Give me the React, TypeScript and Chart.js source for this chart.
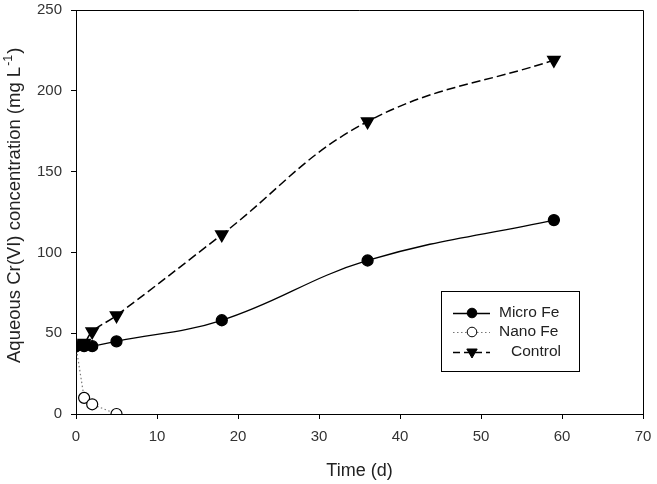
import React, { useEffect, useRef } from "react";
import { Chart, registerables } from "chart.js";

Chart.register(...registerables);

const seriesNames = ["Micro Fe", "Nano Fe", "Control"];
const microTime = [0, 1, 2, 5, 18, 36, 59];
const microValues = [42, 42, 42, 45, 58, 95, 120];
const nanoTime = [0, 1, 2, 5];
const nanoValues = [42, 10, 6, 0];
const controlTime = [0, 1, 2, 5, 18, 36, 59];
const controlValues = [42, 44, 51, 61, 111, 181, 219];
const xTicks = [0, 10, 20, 30, 40, 50, 60, 70];
const yTicks = [0, 50, 100, 150, 200, 250];
const xTitle = "Time (d)";
const yTitleMain = "Aqueous Cr(VI) concentration (mg L";
const yTitleSup = "-1";
const yTitleEnd = ")";

const FONT = "'Liberation Sans', Arial, sans-serif";

const toPoints = (xs: number[], ys: number[]) => xs.map((x, i) => ({ x, y: ys[i] }));

const framePlugin = {
  id: "frame",
  afterDraw(chart: any) {
    const { ctx, chartArea } = chart;
    ctx.save();
    ctx.strokeStyle = "#000";
    ctx.lineWidth = 1;
    ctx.beginPath();
    ctx.moveTo(chartArea.left, chartArea.top + 0.5);
    ctx.lineTo(chartArea.right + 0.5, chartArea.top + 0.5);
    ctx.lineTo(chartArea.right + 0.5, chartArea.bottom);
    ctx.stroke();
    ctx.restore();
  },
};

const yTitlePlugin = {
  id: "yTitle",
  afterDraw(chart: any) {
    const { ctx } = chart;
    ctx.save();
    ctx.translate(19.5, 363);
    ctx.rotate(-Math.PI / 2);
    ctx.fillStyle = "#222";
    ctx.textBaseline = "alphabetic";
    ctx.textAlign = "left";
    ctx.font = `18.5px ${FONT}`;
    ctx.fillText(yTitleMain, 0, 0);
    let x = ctx.measureText(yTitleMain).width + 1;
    ctx.font = `12.5px ${FONT}`;
    ctx.fillText(yTitleSup, x, -8);
    x += ctx.measureText(yTitleSup).width + 1;
    ctx.font = `18.5px ${FONT}`;
    ctx.fillText(yTitleEnd, x, 0);
    ctx.restore();
  },
};

const legendPlugin = {
  id: "boxLegend",
  afterDraw(chart: any) {
    const { ctx } = chart;
    const bx = 441.5, by = 291.5, bw = 138, bh = 80;
    ctx.save();
    ctx.fillStyle = "#fff";
    ctx.fillRect(bx, by, bw, bh);
    ctx.strokeStyle = "#000";
    ctx.lineWidth = 1;
    ctx.strokeRect(bx, by, bw, bh);
    const rows = [313, 332, 352];
    const textX = [499, 499, 511];
    chart.data.datasets.forEach((ds: any, i: number) => {
      const y = rows[i];
      ctx.save();
      ctx.strokeStyle = ds.borderColor;
      ctx.lineWidth = ds.borderWidth;
      ctx.setLineDash(i === 2 ? [7, 4] : ds.borderDash || []);
      ctx.beginPath();
      ctx.moveTo(453, y + 0.5);
      ctx.lineTo(490, y + 0.5);
      ctx.stroke();
      ctx.restore();
      const mx = 472;
      ctx.save();
      ctx.fillStyle = ds.pointBackgroundColor;
      ctx.strokeStyle = "#000";
      ctx.lineWidth = 1;
      ctx.beginPath();
      if (ds.pointStyle === "triangle") {
        const r = 6;
        ctx.moveTo(mx - r * 0.866, y - r * 0.5);
        ctx.lineTo(mx + r * 0.866, y - r * 0.5);
        ctx.lineTo(mx, y + r);
        ctx.closePath();
      } else {
        ctx.arc(mx, y, 4.8, 0, Math.PI * 2);
      }
      ctx.fill();
      ctx.stroke();
      ctx.restore();
      ctx.fillStyle = "#222";
      ctx.font = `15.5px ${FONT}`;
      ctx.textBaseline = "middle";
      ctx.fillText(ds.label, textX[i], y);
    });
    ctx.restore();
  },
};

export default function App() {
  const ref = useRef<HTMLCanvasElement>(null);
  useEffect(() => {
    if (!ref.current) return;
    const chart = new Chart(ref.current, {
      type: "line",
      data: {
        datasets: [
          {
            label: seriesNames[0],
            data: toPoints(microTime, microValues),
            borderColor: "#000",
            borderWidth: 1.3,
            pointStyle: "circle",
            pointRadius: 5.5,
            pointBackgroundColor: "#000",
            pointBorderColor: "#000",
            tension: 0.4,
          },
          {
            label: seriesNames[1],
            data: toPoints(nanoTime, nanoValues),
            borderColor: "#777",
            borderWidth: 1.2,
            borderDash: [1.5, 2.5],
            pointStyle: "circle",
            pointRadius: 5.5,
            pointBackgroundColor: "#fff",
            pointBorderColor: "#000",
            pointBorderWidth: 1.2,
            tension: 0,
          },
          {
            label: seriesNames[2],
            data: toPoints(controlTime, controlValues),
            borderColor: "#000",
            borderWidth: 1.5,
            borderDash: [9, 4],
            pointStyle: "triangle",
            pointRotation: 180,
            pointRadius: 7,
            pointBackgroundColor: "#000",
            pointBorderColor: "#000",
            tension: 0.4,
          },
        ] as any,
      },
      options: {
        animation: false,
        responsive: false,
        maintainAspectRatio: false,
        layout: { padding: { left: 0, top: 0, right: 0, bottom: 0 } },
        plugins: { legend: { display: false }, tooltip: { enabled: false } },
        scales: {
          x: {
            type: "linear",
            min: 0,
            max: 70,
            afterBuildTicks: (s: any) => {
              s.ticks = xTicks.map((v) => ({ value: v }));
            },
            afterFit: (s: any) => {
              s.height = 70;
              s.paddingRight = 14;
              s.paddingLeft = 0;
            },
            ticks: { color: "#333", font: { family: FONT, size: 15 }, padding: 9, maxRotation: 0 },
            grid: { drawOnChartArea: false, drawTicks: true, tickLength: 5, color: "#000" },
            border: { display: true, color: "#000", width: 1 },
            title: {
              display: true,
              text: xTitle,
              color: "#222",
              font: { family: FONT, size: 18 },
              padding: { top: 4, bottom: 2 },
            },
          },
          y: {
            type: "linear",
            min: 0,
            max: 250,
            afterBuildTicks: (s: any) => {
              s.ticks = yTicks.map((v) => ({ value: v }));
            },
            afterFit: (s: any) => {
              s.width = 76;
              s.paddingTop = 10;
              s.paddingBottom = 0;
            },
            ticks: { color: "#333", font: { family: FONT, size: 15 }, padding: 9 },
            grid: { drawOnChartArea: false, drawTicks: true, tickLength: 5, color: "#000" },
            border: { display: true, color: "#000", width: 1 },
            title: { display: false },
          },
        },
      },
      plugins: [framePlugin, yTitlePlugin, legendPlugin],
    });
    return () => chart.destroy();
  }, []);
  return (
    <div style={{ position: "absolute", left: 0, top: 0, width: 657, height: 484, background: "#fff" }}>
      <canvas ref={ref} width={657} height={484} style={{ display: "block" }} />
    </div>
  );
}
